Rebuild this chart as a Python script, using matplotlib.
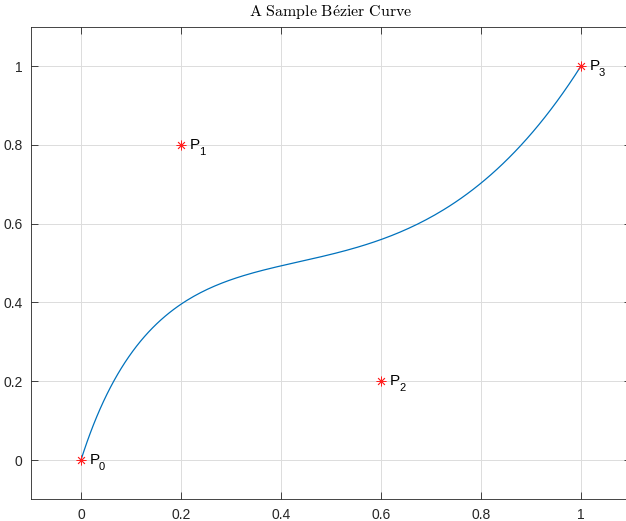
import numpy as np
import matplotlib
matplotlib.use("Agg")
import matplotlib.pyplot as plt

# control points of the curve
px = [0.0, 0.2, 0.6, 1.0]
py = [0.0, 0.8, 0.2, 1.0]
labels = ["0", "1", "2", "3"]
ticks = [0, 0.2, 0.4, 0.6, 0.8, 1]
tick_labels = ["0", "0.2", "0.4", "0.6", "0.8", "1"]

plt.rcParams['font.family'] = ['Liberation Sans', 'DejaVu Sans']
plt.rcParams['mathtext.fontset'] = 'cm'

# cubic Bezier from the control points
t = np.linspace(0, 1, 200)
bx = ((1 - t)**3 * px[0] + 3 * (1 - t)**2 * t * px[1]
      + 3 * (1 - t) * t**2 * px[2] + t**3 * px[3])
by = ((1 - t)**3 * py[0] + 3 * (1 - t)**2 * t * py[1]
      + 3 * (1 - t) * t**2 * py[2] + t**3 * py[3])

fig = plt.figure(figsize=(6.26, 5.21), dpi=100)
ax = fig.add_axes([31 / 626, 21.6 / 521, 600 / 626, 472.8 / 521])

ax.plot(bx, by, color='#0072BD', lw=0.9)
ax.plot(px, py, marker=(8, 2, 0), color='#FF2020', ms=7, mew=0.6, ls='none')
for x, y, s in zip(px, py, labels):
    # label P with a lowered subscript, MATLAB tex style
    ax.annotate('P', (x, y), xytext=(9, 0), textcoords='offset pixels',
                fontsize=11, va='center', ha='left', color='#000000')
    ax.annotate(s, (x, y), xytext=(18, -7), textcoords='offset pixels',
                fontsize=8, va='center', ha='left', color='#000000')

ax.set_xlim(-0.1, 1.1)
ax.set_ylim(-0.1, 1.1)
ax.set_xticks(ticks)
ax.set_xticklabels(tick_labels)
ax.set_yticks(ticks)
ax.set_yticklabels(tick_labels)
ax.tick_params(direction='in', top=True, right=True, length=5, width=0.6,
               colors='#262626', labelsize=10, pad=6)
ax.grid(True, color='#DCDCDC', lw=0.7)
ax.set_axisbelow(True)
for sp in ax.spines.values():
    sp.set_color('#262626')
    sp.set_linewidth(0.6)

# latex-interpreted title in MATLAB -> computer modern
ax.set_title(r'$\mathrm{A\ Sample\ B\acute{e}zier\ Curve}$',
             fontsize=11.5, color='#000000', pad=7)

fig.savefig('out.png', dpi=100)
